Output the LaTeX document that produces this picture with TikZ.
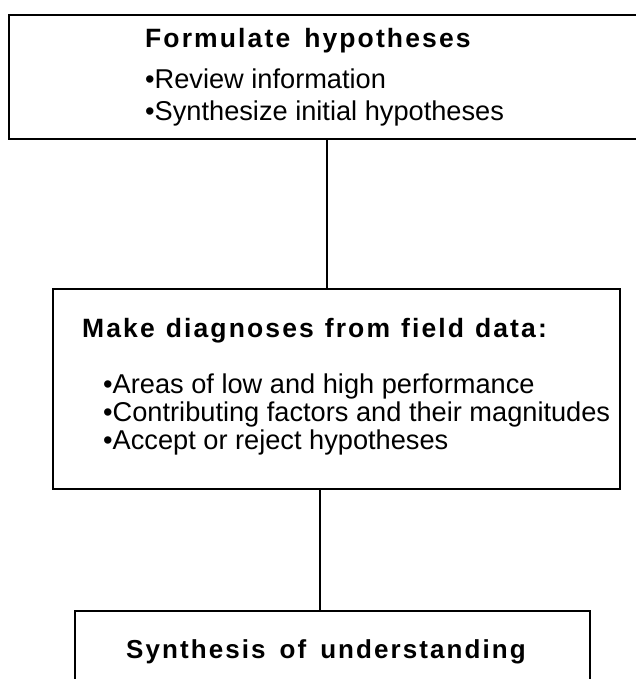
\documentclass[tikz,border=0pt]{standalone}
\usepackage{fontspec}
\setmainfont{Liberation Sans}
\newfontfamily\headfont{Liberation Sans}[LetterSpace=8]
\begin{document}
\begin{tikzpicture}[x=1pt,y=-1pt,
  stagebox/.style={draw, line width=1.8pt, rectangle, inner sep=0pt, anchor=north west},
  headtext/.style={inner sep=0pt, anchor=base west, font=\headfont\bfseries\fontsize{26.5}{30}\selectfont},
  itemtext/.style={inner sep=0pt, anchor=base west, font=\fontsize{27.2}{30}\selectfont},
  link/.style={line width=1.8pt}]
\useasboundingbox (0,0) rectangle (636,679);
\clip (0,0) rectangle (636,679);

% stage boxes (first runs off to the right, last off the bottom)
\node[stagebox, minimum width=680pt, minimum height=124pt] (formulate) at (8,14) {};
\node[stagebox, minimum width=567pt, minimum height=200pt] (diagnose) at (52,288) {};
\node[stagebox, minimum width=515pt, minimum height=120pt] (synthesis) at (74,610) {};

% stage 1
\node[headtext] (t1) at (145,48) {Formulate\hspace{14pt}hypotheses};
\node[itemtext] (t1a) at (145,89) {•Review information};
\node[itemtext] (t1b) at (145,121) {•Synthesize initial hypotheses};

% stage 2
\node[headtext] (t2) at (82,337) {Make\hspace{11pt}diagnoses\hspace{11pt}from\hspace{11pt}field\hspace{11pt}data:};
\node[itemtext] (t2a) at (103,393) {•Areas of low and high performance};
\node[itemtext] (t2b) at (103,421) {•Contributing factors and their magnitudes};
\node[itemtext] (t2c) at (103,449) {•Accept or reject hypotheses};

% stage 3
\node[headtext, font=\headfont\bfseries\fontsize{26}{30}\selectfont] (t3) at (126,658) {Synthesis\hspace{14pt}of\hspace{14pt}understanding};

% connectors between stages
\coordinate (c1) at (327,0);
\coordinate (c2) at (320,0);
\draw[link] (formulate.south -| c1) -- (diagnose.north -| c1);
\draw[link] (diagnose.south -| c2) -- (synthesis.north -| c2);
\end{tikzpicture}
\end{document}
